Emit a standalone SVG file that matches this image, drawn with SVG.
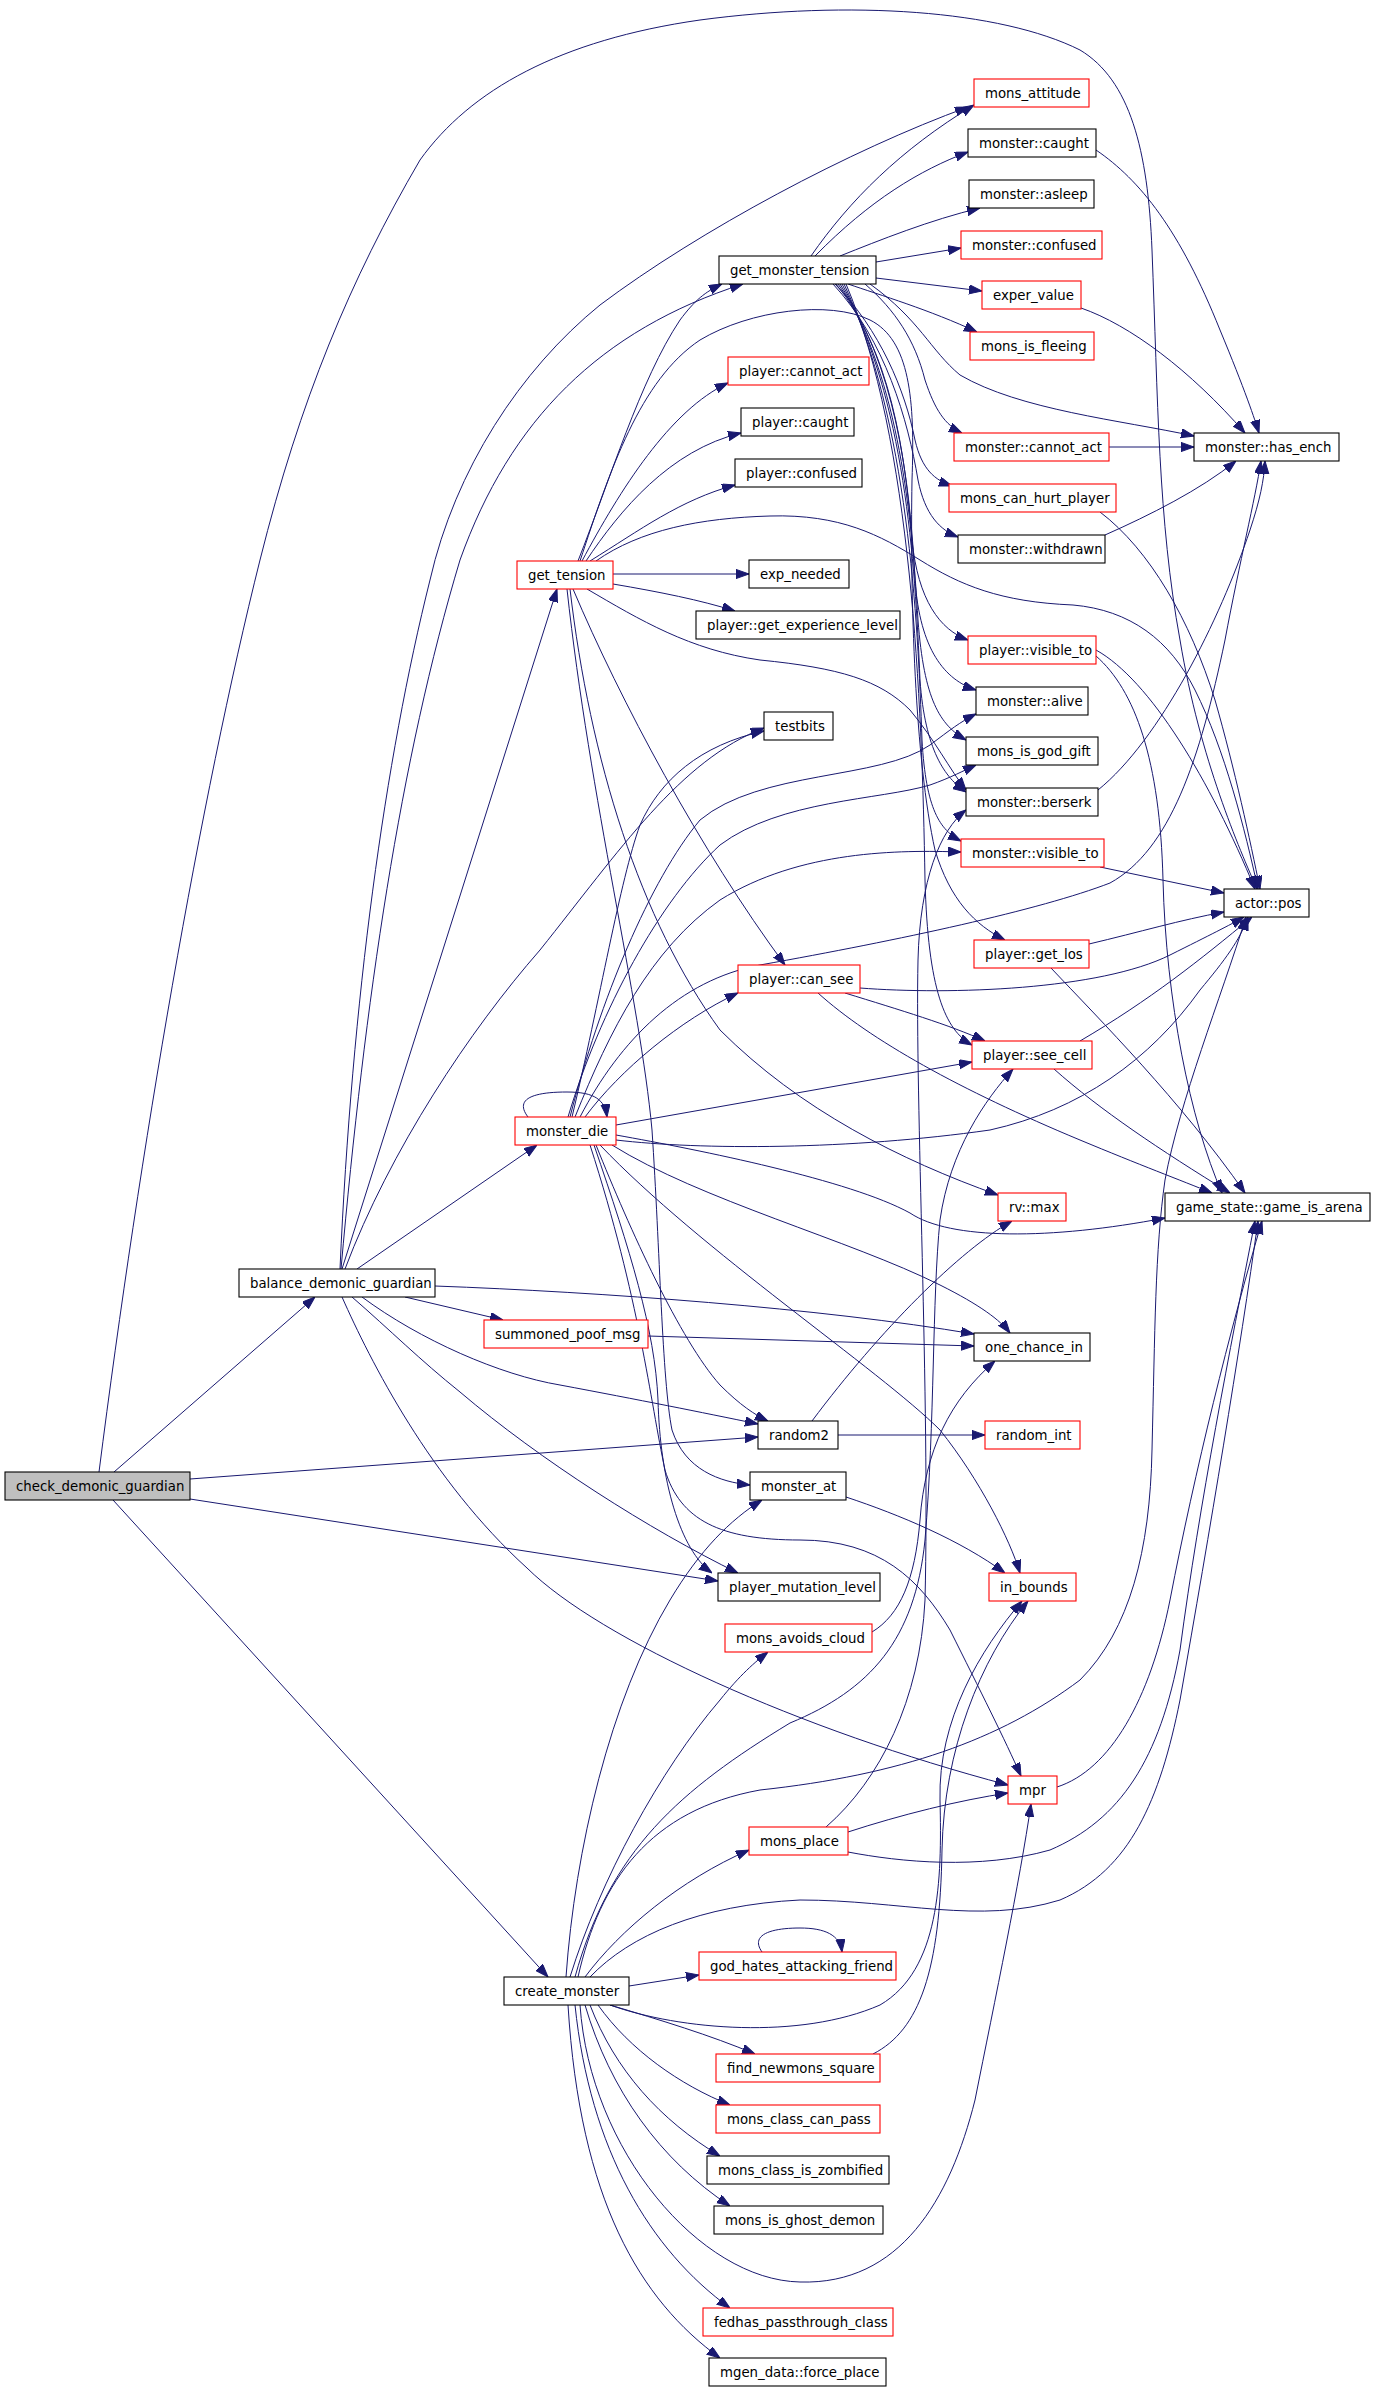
<svg xmlns="http://www.w3.org/2000/svg" width="1373" height="2389" viewBox="0 0 1373 2389">
<style>
.n rect{fill:#ffffff;stroke:#000000;stroke-width:1.1}
.n.r rect{stroke:#ff0000}
.n.g rect{fill:#bfbfbf}
.n text{font-family:"DejaVu Sans","Liberation Sans",sans-serif;font-size:13.3px;fill:#000000}
#edges path{fill:none;stroke:#191970;stroke-width:1;marker-end:url(#arr)}
</style>
<defs>
<marker id="arr" markerWidth="13" markerHeight="10" refX="13" refY="4.6" orient="auto" markerUnits="userSpaceOnUse">
<path d="M0,0 L13,4.6 L0,9.2 z" fill="#191970" stroke="#191970" stroke-width="1"/>
</marker>
</defs>
<rect x="0" y="0" width="1373" height="2389" fill="#ffffff"/>
<g id="edges">
<!-- check_demonic_guardian -->
<path d="M114,1472 L315,1297"/>
<path d="M113,1500 L548,1977"/>
<path d="M190,1479 L758,1437"/>
<path d="M190,1499 L718,1581"/>
<path d="M99,1472 C140,1150 200,800 260,560 C300,400 350,280 420,160 C470,90 560,40 700,20 C850,0 1000,10 1080,50 C1130,80 1148,150 1152,250 C1158,400 1158,520 1180,640 C1200,760 1240,850 1257,889"/>
<!-- balance_demonic_guardian -->
<path d="M342,1269 L557,589"/>
<path d="M341,1269 C365,1000 400,760 460,560 C510,420 600,330 743,284"/>
<path d="M340,1269 C352,1000 385,760 430,580 C455,470 520,370 600,305 C700,230 850,150 968,107"/>
<path d="M345,1269 C390,1150 470,1030 540,950 C620,850 680,760 764,728"/>
<path d="M357,1269 L537,1145"/>
<path d="M405,1297 L503,1320"/>
<path d="M435,1286 C600,1292 820,1308 974,1334"/>
<path d="M362,1297 C420,1340 500,1375 560,1385 C640,1400 700,1412 758,1424"/>
<path d="M352,1297 C390,1330 420,1360 460,1392 C540,1460 650,1530 738,1573"/>
<path d="M342,1297 C370,1360 430,1480 527,1568 C600,1640 800,1730 1008,1785"/>
<!-- get_tension -->
<path d="M578,561 C610,480 640,380 680,320 C695,300 705,292 722,284"/>
<path d="M582,561 C620,490 670,410 728,383"/>
<path d="M586,561 C620,510 670,450 741,433"/>
<path d="M590,561 C640,530 680,500 735,485"/>
<path d="M613,574 L749,574"/>
<path d="M613,584 C660,592 700,600 735,611"/>
<path d="M573,589 C620,700 700,850 785,965"/>
<path d="M570,589 C590,760 640,920 720,1030 C800,1110 900,1160 998,1195"/>
<path d="M567,589 C590,800 640,1000 652,1130 C660,1250 662,1380 672,1430 C685,1470 720,1482 750,1485"/>
<path d="M580,561 C610,470 640,380 700,340 C750,310 830,300 870,320 C910,340 915,400 912,480 C910,600 915,760 935,850 C950,900 975,925 1005,940"/>
<path d="M596,561 C640,530 700,518 770,516 C840,514 880,535 920,560 C960,585 1000,602 1073,605 C1130,610 1170,640 1195,690 C1225,750 1245,830 1258,889"/>
<path d="M587,589 C640,620 690,650 760,660 C840,668 880,680 910,710 C935,740 950,770 966,790"/>
<!-- get_monster_tension -->
<path d="M811,256 C850,200 900,150 974,105"/>
<path d="M815,256 C870,200 920,170 968,152"/>
<path d="M840,256 C880,240 930,220 980,208"/>
<path d="M876,262 L961,248"/>
<path d="M876,278 L982,291"/>
<path d="M848,284 C880,295 930,310 977,332"/>
<path d="M870,284 C920,320 930,350 960,375 C1020,410 1120,420 1194,436"/>
<path d="M865,284 C895,310 915,340 925,380 C935,410 945,425 962,433"/>
<path d="M835,284 C880,330 905,390 915,440 C922,470 935,480 952,486"/>
<path d="M833,284 C885,340 908,420 918,480 C925,515 940,530 958,537"/>
<path d="M836,284 C890,350 905,450 912,540 C918,600 940,630 968,640"/>
<path d="M838,284 C895,360 910,480 915,580 C920,650 945,680 976,690"/>
<path d="M840,284 C900,380 912,520 918,620 C924,700 940,725 966,740"/>
<path d="M842,284 C905,400 915,560 920,680 C925,750 945,778 966,792"/>
<path d="M844,284 C908,420 918,620 922,740 C926,810 940,830 961,841"/>
<path d="M846,284 C912,440 922,700 925,880 C928,990 945,1030 972,1045"/>
<!-- monster_die -->
<path d="M528,1117 C515,1100 530,1092 567,1092 C595,1092 605,1100 607,1117"/>
<path d="M572,1117 C600,1000 620,880 640,825 C660,780 700,745 764,731"/>
<path d="M570,1117 C600,1000 650,880 700,820 C760,770 880,780 930,745 C950,730 960,722 976,714"/>
<path d="M568,1117 C600,1010 660,900 720,845 C780,800 880,800 930,785 C950,778 965,770 976,765"/>
<path d="M575,1117 C610,1030 650,950 720,900 C800,850 900,850 961,852"/>
<path d="M580,1117 C620,1040 680,980 760,965 C900,940 1040,910 1110,883 C1170,850 1200,760 1225,640 C1240,560 1255,500 1261,461"/>
<path d="M585,1117 C620,1070 680,1020 738,993"/>
<path d="M616,1125 L972,1062"/>
<path d="M616,1140 C700,1150 850,1150 990,1130 C1080,1110 1150,1060 1200,990 C1225,960 1240,940 1248,917"/>
<path d="M616,1135 C700,1150 850,1180 910,1213 C950,1240 1050,1240 1165,1218"/>
<path d="M612,1145 C700,1200 850,1240 940,1285 C980,1305 1000,1320 1010,1333"/>
<path d="M596,1145 C630,1230 680,1340 720,1385 C740,1405 755,1415 768,1421"/>
<path d="M600,1145 C700,1250 880,1370 940,1430 C980,1480 1010,1540 1020,1573"/>
<path d="M590,1145 C640,1300 650,1400 665,1470 C680,1520 720,1540 800,1540 C880,1540 920,1580 950,1630 C980,1690 1005,1740 1021,1776"/>
<path d="M594,1145 C630,1250 655,1330 658,1400 C660,1480 680,1550 712,1573"/>
<!-- player::can_see -->
<path d="M860,988 C950,995 1100,990 1170,955 C1210,935 1230,925 1244,917"/>
<path d="M845,993 C900,1010 950,1025 985,1041"/>
<path d="M818,993 C870,1040 960,1090 1080,1140 C1140,1165 1180,1180 1212,1193"/>
<!-- column 4 to column 5 -->
<path d="M1096,650 C1150,680 1210,780 1255,889"/>
<path d="M1096,656 C1135,690 1160,760 1163,880 C1166,1000 1190,1120 1222,1193"/>
<path d="M1096,150 C1140,180 1180,230 1220,330 C1245,390 1255,420 1259,433"/>
<path d="M1081,308 C1130,325 1190,370 1245,433"/>
<path d="M1109,447 L1194,447"/>
<path d="M1105,535 C1150,515 1200,490 1236,461"/>
<path d="M1098,790 C1160,740 1220,620 1250,530 C1260,500 1264,480 1265,461"/>
<path d="M1100,512 C1150,550 1190,620 1215,700 C1235,770 1250,840 1260,889"/>
<path d="M1100,867 L1224,893"/>
<path d="M1089,944 C1140,932 1180,920 1224,912"/>
<path d="M1051,968 C1100,1020 1180,1100 1245,1193"/>
<path d="M1080,1041 C1150,1000 1200,960 1252,917"/>
<path d="M1054,1069 C1100,1110 1160,1150 1230,1193"/>
<!-- lower middle -->
<path d="M812,1421 C880,1330 960,1250 1012,1221"/>
<path d="M838,1435 L985,1435"/>
<path d="M846,1497 C900,1515 960,1540 1005,1573"/>
<path d="M648,1336 L974,1346"/>
<path d="M872,1632 C900,1615 915,1580 920,1520 C925,1450 950,1400 995,1361"/>
<path d="M848,1832 C900,1815 960,1800 1008,1793"/>
<path d="M848,1852 C900,1862 980,1870 1050,1850 C1120,1820 1160,1760 1180,1650 C1200,1500 1230,1350 1255,1221"/>
<path d="M826,1827 C880,1780 920,1700 925,1600 C930,1400 915,1100 918,960 C920,880 940,830 966,810"/>
<path d="M1057,1787 C1110,1770 1150,1700 1170,1600 C1195,1470 1230,1330 1262,1221"/>
<path d="M873,2054 C920,2030 940,1970 942,1850 C944,1750 980,1660 1028,1601"/>
<path d="M762,1952 C750,1935 770,1928 800,1928 C825,1928 840,1935 842,1952"/>
<!-- create_monster -->
<path d="M566,1977 C575,1850 610,1700 670,1600 C700,1550 730,1520 762,1500"/>
<path d="M570,1977 C600,1880 660,1770 720,1700 C740,1675 755,1662 768,1652"/>
<path d="M575,1977 C610,1850 680,1790 790,1723 C870,1690 915,1640 925,1540 C935,1420 932,1300 940,1220 C950,1150 985,1100 1013,1069"/>
<path d="M585,1977 C620,1930 680,1880 749,1850"/>
<path d="M590,1977 C630,1935 700,1905 800,1900 C900,1900 980,1925 1060,1900 C1130,1870 1160,1800 1180,1700 C1210,1530 1240,1350 1258,1221"/>
<path d="M578,1977 C600,1880 650,1810 760,1790 C900,1775 1000,1740 1080,1680 C1130,1630 1150,1550 1152,1450 C1155,1330 1155,1250 1165,1180 C1180,1100 1220,1000 1246,917"/>
<path d="M610,2005 C680,2030 800,2040 880,2005 C940,1970 942,1880 940,1800 C938,1720 980,1650 1022,1601"/>
<path d="M629,1986 L699,1975"/>
<path d="M610,2005 C660,2020 710,2035 755,2054"/>
<path d="M598,2005 C630,2050 680,2085 730,2105"/>
<path d="M590,2005 C615,2070 660,2120 720,2156"/>
<path d="M585,2005 C610,2090 660,2160 730,2206"/>
<path d="M575,2005 C590,2150 650,2250 730,2308"/>
<path d="M568,2005 C580,2200 640,2300 720,2358"/>
<path d="M580,2005 C590,2150 700,2280 800,2282 C900,2285 950,2200 975,2100 C995,2000 1020,1880 1031,1804"/>
</g>
<g id="n_cdg" class="n g"><rect x="5" y="1472" width="185" height="28"/><text x="16" y="1490.5">check_demonic_guardian</text></g>
<g id="n_bdg" class="n"><rect x="239" y="1269" width="196" height="28"/><text x="250" y="1287.5">balance_demonic_guardian</text></g>
<g id="n_cm" class="n"><rect x="504" y="1977" width="125" height="28"/><text x="515" y="1995.5">create_monster</text></g>
<g id="n_gt" class="n r"><rect x="517" y="561" width="96" height="28"/><text x="528" y="579.5">get_tension</text></g>
<g id="n_md" class="n r"><rect x="515" y="1117" width="101" height="28"/><text x="526" y="1135.5">monster_die</text></g>
<g id="n_gmt" class="n"><rect x="719" y="256" width="157" height="28"/><text x="730" y="274.5">get_monster_tension</text></g>
<g id="n_pca" class="n r"><rect x="728" y="357" width="141" height="28"/><text x="739" y="375.5">player::cannot_act</text></g>
<g id="n_pc" class="n"><rect x="741" y="408" width="113" height="28"/><text x="752" y="426.5">player::caught</text></g>
<g id="n_pcf" class="n"><rect x="735" y="459" width="127" height="28"/><text x="746" y="477.5">player::confused</text></g>
<g id="n_en" class="n"><rect x="749" y="560" width="100" height="28"/><text x="760" y="578.5">exp_needed</text></g>
<g id="n_pgel" class="n"><rect x="696" y="611" width="204" height="28"/><text x="707" y="629.5">player::get_experience_level</text></g>
<g id="n_tb" class="n"><rect x="764" y="712" width="69" height="28"/><text x="775" y="730.5">testbits</text></g>
<g id="n_pcs" class="n r"><rect x="738" y="965" width="122" height="28"/><text x="749" y="983.5">player::can_see</text></g>
<g id="n_spm" class="n r"><rect x="484" y="1320" width="164" height="28"/><text x="495" y="1338.5">summoned_poof_msg</text></g>
<g id="n_r2" class="n"><rect x="758" y="1421" width="80" height="28"/><text x="769" y="1439.5">random2</text></g>
<g id="n_ma" class="n"><rect x="750" y="1472" width="96" height="28"/><text x="761" y="1490.5">monster_at</text></g>
<g id="n_pml" class="n"><rect x="718" y="1573" width="162" height="28"/><text x="729" y="1591.5">player_mutation_level</text></g>
<g id="n_mac" class="n r"><rect x="725" y="1624" width="147" height="28"/><text x="736" y="1642.5">mons_avoids_cloud</text></g>
<g id="n_mp" class="n r"><rect x="749" y="1827" width="99" height="28"/><text x="760" y="1845.5">mons_place</text></g>
<g id="n_ghaf" class="n r"><rect x="699" y="1952" width="197" height="28"/><text x="710" y="1970.5">god_hates_attacking_friend</text></g>
<g id="n_fns" class="n r"><rect x="716" y="2054" width="164" height="28"/><text x="727" y="2072.5">find_newmons_square</text></g>
<g id="n_mccp" class="n r"><rect x="716" y="2105" width="164" height="28"/><text x="727" y="2123.5">mons_class_can_pass</text></g>
<g id="n_mciz" class="n"><rect x="707" y="2156" width="182" height="28"/><text x="718" y="2174.5">mons_class_is_zombified</text></g>
<g id="n_migd" class="n"><rect x="714" y="2206" width="169" height="28"/><text x="725" y="2224.5">mons_is_ghost_demon</text></g>
<g id="n_fpc" class="n r"><rect x="703" y="2308" width="190" height="28"/><text x="714" y="2326.5">fedhas_passthrough_class</text></g>
<g id="n_mdfp" class="n"><rect x="709" y="2358" width="177" height="28"/><text x="720" y="2376.5">mgen_data::force_place</text></g>
<g id="n_matt" class="n r"><rect x="974" y="79" width="115" height="28"/><text x="985" y="97.5">mons_attitude</text></g>
<g id="n_mcau" class="n"><rect x="968" y="129" width="128" height="28"/><text x="979" y="147.5">monster::caught</text></g>
<g id="n_masl" class="n"><rect x="969" y="180" width="125" height="28"/><text x="980" y="198.5">monster::asleep</text></g>
<g id="n_mconf" class="n r"><rect x="961" y="231" width="141" height="28"/><text x="972" y="249.5">monster::confused</text></g>
<g id="n_ev" class="n r"><rect x="982" y="281" width="99" height="28"/><text x="993" y="299.5">exper_value</text></g>
<g id="n_mif" class="n r"><rect x="970" y="332" width="124" height="28"/><text x="981" y="350.5">mons_is_fleeing</text></g>
<g id="n_mca" class="n r"><rect x="954" y="433" width="155" height="28"/><text x="965" y="451.5">monster::cannot_act</text></g>
<g id="n_mchp" class="n r"><rect x="949" y="484" width="167" height="28"/><text x="960" y="502.5">mons_can_hurt_player</text></g>
<g id="n_mw" class="n"><rect x="958" y="535" width="147" height="28"/><text x="969" y="553.5">monster::withdrawn</text></g>
<g id="n_pvt" class="n r"><rect x="968" y="636" width="128" height="28"/><text x="979" y="654.5">player::visible_to</text></g>
<g id="n_mal" class="n"><rect x="976" y="687" width="112" height="28"/><text x="987" y="705.5">monster::alive</text></g>
<g id="n_migg" class="n"><rect x="966" y="737" width="132" height="28"/><text x="977" y="755.5">mons_is_god_gift</text></g>
<g id="n_mb" class="n"><rect x="966" y="788" width="132" height="28"/><text x="977" y="806.5">monster::berserk</text></g>
<g id="n_mvt" class="n r"><rect x="961" y="839" width="143" height="28"/><text x="972" y="857.5">monster::visible_to</text></g>
<g id="n_pgl" class="n r"><rect x="974" y="940" width="115" height="28"/><text x="985" y="958.5">player::get_los</text></g>
<g id="n_psc" class="n r"><rect x="972" y="1041" width="120" height="28"/><text x="983" y="1059.5">player::see_cell</text></g>
<g id="n_rvm" class="n r"><rect x="998" y="1193" width="68" height="28"/><text x="1009" y="1211.5">rv::max</text></g>
<g id="n_oci" class="n"><rect x="974" y="1333" width="116" height="28"/><text x="985" y="1351.5">one_chance_in</text></g>
<g id="n_ri" class="n r"><rect x="985" y="1421" width="95" height="28"/><text x="996" y="1439.5">random_int</text></g>
<g id="n_ib" class="n r"><rect x="989" y="1573" width="87" height="28"/><text x="1000" y="1591.5">in_bounds</text></g>
<g id="n_mpr" class="n r"><rect x="1008" y="1776" width="49" height="28"/><text x="1019" y="1794.5">mpr</text></g>
<g id="n_mhe" class="n"><rect x="1194" y="433" width="145" height="28"/><text x="1205" y="451.5">monster::has_ench</text></g>
<g id="n_ap" class="n"><rect x="1224" y="889" width="85" height="28"/><text x="1235" y="907.5">actor::pos</text></g>
<g id="n_gia" class="n"><rect x="1165" y="1193" width="205" height="28"/><text x="1176" y="1211.5">game_state::game_is_arena</text></g>
</svg>
